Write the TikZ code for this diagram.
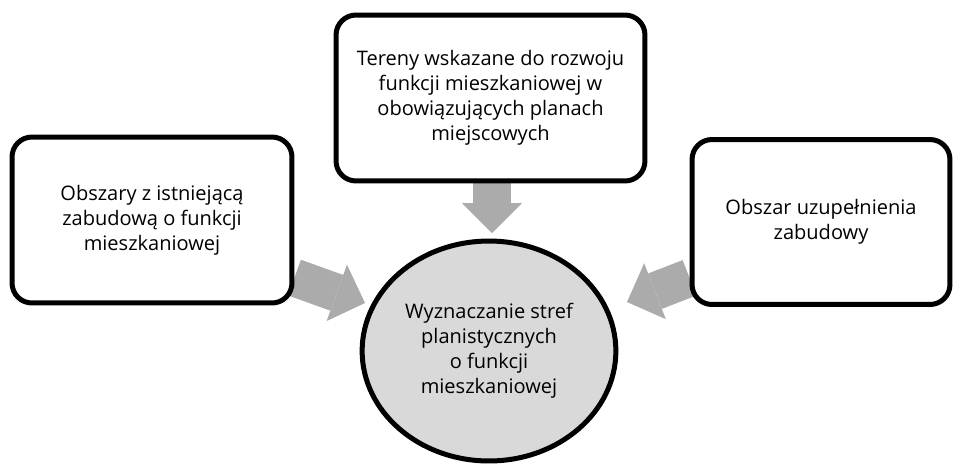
\documentclass[tikz,border=0pt]{standalone}
\usepackage{fontspec}
\setmainfont{Open Sans}
\usetikzlibrary{arrows.meta,backgrounds,shapes.geometric}
\definecolor{arrgray}{RGB}{171,171,171}
\definecolor{circgray}{RGB}{217,217,217}

\begin{document}
\begin{tikzpicture}[x=0.02cm,y=-0.02cm,
  bx/.style={rectangle,draw,line width=0.1cm,rounded corners=0.4cm,fill=white,align=center,font=\fontsize{11.4}{14.2}\selectfont},
  ga/.style={draw=arrgray,line width=0.76cm,-{Triangle[length=0.6cm,width=1.2cm,line width=0pt]}}]
  \useasboundingbox (0,0) rectangle (960,464);
  \node[bx,minimum width=5.6cm,minimum height=3.32cm] (obsz) at (152,220) {Obszary z istniejącą\\zabudową o funkcji\\mieszkaniowej};
  \node[bx,minimum width=6.18cm,minimum height=3.32cm] (ter) at (490.5,98) {Tereny wskazane do rozwoju\\funkcji mieszkaniowej w\\obowiązujących planach\\miejscowych};
  \node[bx,minimum width=5.16cm,minimum height=3.3cm] (uzup) at (821,222) {Obszar uzupełnienia\\zabudowy};
  \node[bx,ellipse,fill=circgray,minimum width=4.68cm,minimum height=4.4cm] (wyzn) at (489,351) {Wyznaczanie stref\\planistycznych\\o funkcji\\mieszkaniowej};

  \coordinate (ltip) at (365,303);
  \coordinate (ttip) at (492,233);
  \coordinate (rtip) at (627,302);
  \begin{scope}[on background layer]
    \draw[ga] (obsz.-22) -- (ltip);
    \draw[ga] (ter.south -| ttip) -- (ttip);
    \draw[ga] (uzup.203) -- (rtip);
  \end{scope}
\end{tikzpicture}
\end{document}
